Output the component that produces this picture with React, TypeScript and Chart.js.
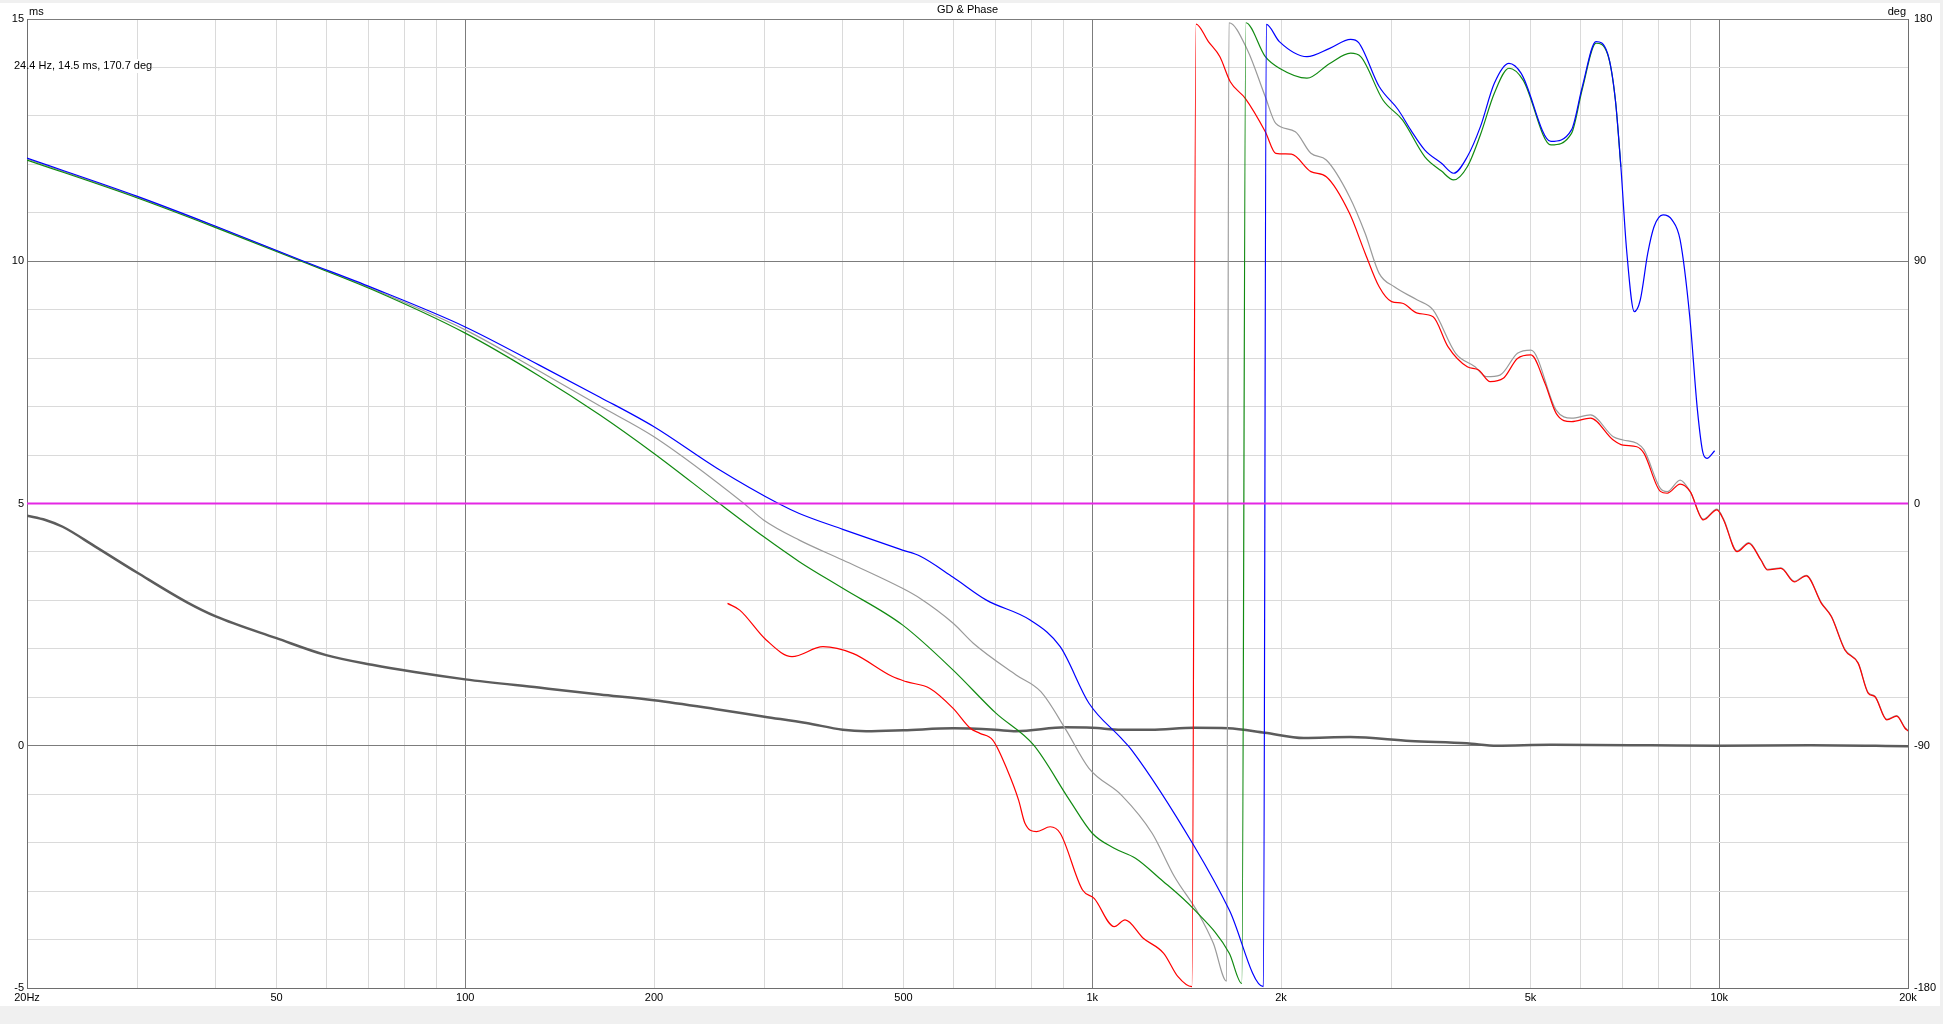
import React, { useEffect, useRef } from 'react';
import { Chart, registerables } from 'chart.js';

Chart.register(...registerables);

// ---------- data ----------
const xTickValues = [20, 30, 40, 50, 60, 70, 80, 90, 100, 200, 300, 400, 500, 600, 700, 800, 900, 1000, 2000, 3000, 4000, 5000, 6000, 7000, 8000, 9000, 10000, 20000];
const xTickLabels: Record<number, string> = { 20: '20Hz', 50: '50', 100: '100', 200: '200', 500: '500', 1000: '1k', 2000: '2k', 5000: '5k', 10000: '10k', 20000: '20k' };
const yMsLabels = [-5, 0, 5, 10, 15];
const yDegLabels = [-180, -90, 0, 90, 180];

// Group delay (ms, left axis)
const gdFreq = [20, 21.4, 22.8, 25.7, 30, 36, 40, 50, 60, 71, 83, 100, 131, 164, 200, 250, 300, 350, 400, 436, 500, 600, 700, 756, 908, 1000, 1112, 1240, 1455, 1646, 1884, 2174, 2580, 3216, 3957, 4420, 5378, 7773, 10000, 14000, 20000];
const gdMs = [4.75, 4.66, 4.52, 4.11, 3.57, 2.96, 2.67, 2.22, 1.87, 1.67, 1.52, 1.37, 1.2, 1.06, 0.94, 0.76, 0.6, 0.47, 0.33, 0.3, 0.32, 0.36, 0.33, 0.3, 0.38, 0.37, 0.33, 0.33, 0.37, 0.36, 0.27, 0.16, 0.18, 0.1, 0.05, 0.0, 0.02, 0.01, 0.0, 0.01, -0.01];

// Phase traces (deg, right axis)
const blueFreq = [20, 30, 40, 55, 71, 100, 131, 164, 200, 252, 317, 341, 400, 498, 531, 600, 678, 796, 889, 988, 1112, 1156, 1456, 1654, 1875, 1895, 1988, 2200, 2392, 2583, 2660, 2868, 3078, 3220, 3392, 3606, 3770, 3964, 4160, 4378, 4620, 4832, 5390, 5812, 6048, 6360, 6634, 6828, 6968, 7116, 7320, 7482, 7690, 7870, 8134, 8412, 8662, 8973, 9230, 9424, 9558, 9832];
const blueDeg = [128.3, 114.1, 103, 90.2, 80.2, 65.6, 51.5, 39.5, 28.5, 13.1, -0.2, -3.7, -9.6, -17.3, -19.5, -27.4, -35.9, -43.3, -53.2, -74.2, -87.2, -91.6, -127.5, -151, -179.5, 178, 171.6, 166, 169.1, 172.4, 171.2, 154.9, 146.2, 138.8, 131.3, 126.4, 122.7, 128.8, 140, 156.1, 163.5, 159.8, 134.5, 138.8, 154.9, 171.6, 167.3, 150, 125.1, 94.2, 71.3, 75.6, 92.9, 102.8, 107.2, 105.3, 97.9, 69.4, 34.7, 18.6, 16.8, 19.6];

const greenFreq = [20, 30, 40, 55, 71, 100, 131, 164, 200, 254, 299, 341, 400, 498, 600, 702, 806, 920, 1000, 1084, 1172, 1280, 1456, 1654, 1732, 1758, 1888, 1988, 2200, 2392, 2583, 2680, 2908, 3124, 3392, 3606, 3770, 3964, 4160, 4378, 4620, 4866, 5390, 5812, 6048, 6360, 6634, 6828, 6968];
const greenDeg = [127.6, 113.5, 102.5, 89.8, 79.5, 63.3, 47.5, 32.9, 18.6, 0.1, -12.3, -21.6, -31.5, -45.1, -61.9, -77.9, -89.7, -110.2, -122.5, -128.1, -131.8, -139.2, -151, -167.1, -178.3, 178.6, 166, 161.7, 158, 163.5, 167.3, 166, 149.9, 142.5, 128.8, 123.5, 120.2, 125.1, 137, 152.4, 161.7, 157.3, 133.2, 137.5, 154, 171, 167, 150, 125.1];

const greyFreq = [20, 30, 40, 55, 71, 100, 131, 164, 200, 278, 299, 341, 400, 498, 531, 600, 646, 756, 828, 908, 988, 1115, 1246, 1352, 1476, 1560, 1638, 1652, 1768, 1888, 1962, 2108, 2232, 2362, 2572, 2724, 2868, 3032, 3300, 3496, 3798, 4078, 4254, 4470, 4766, 5008, 5494, 5812, 6232, 6776, 7024, 7388, 7586, 8054, 8260, 8662, 8988, 9434, 9914, 10160, 10676, 11148, 11650, 11942, 12544, 13178, 13764, 14552, 15098, 15860, 16656, 17284, 17712, 18500, 19188, 19780, 20000];
const greyDeg = [128, 113.8, 102.8, 90, 79.8, 64.5, 49.3, 36.2, 24.8, 0.1, -6.1, -13.6, -21, -31.5, -35.2, -44.5, -51.9, -63.7, -69.9, -84.1, -98.4, -108.5, -122.5, -138.6, -152.2, -163.4, -177.5, 178.6, 168.5, 151.1, 141.2, 138.1, 130.1, 127.6, 114, 100.4, 85.5, 80.5, 75.6, 71.9, 55.8, 50.8, 47.1, 47.7, 55.8, 57, 34.7, 31.7, 32.9, 24.8, 23.6, 22.4, 19.9, 5.6, 4.4, 8.7, 4.4, -5.8, -2.1, -5.8, -17.6, -14.5, -20.8, -24.5, -23.9, -28.9, -26.7, -36.9, -41.9, -54.2, -59.2, -70.3, -71.6, -80.2, -78.8, -83.3, -84.3];

const redFreq = [262, 274, 302, 332, 372, 415, 480, 505, 551, 600, 639, 662, 694, 732, 763, 781, 815, 857, 889, 965, 1007, 1084, 1128, 1206, 1300, 1370, 1442, 1464, 1532, 1598, 1660, 1754, 1888, 1962, 2078, 2232, 2362, 2572, 2724, 2868, 3002, 3124, 3300, 3496, 3692, 3964, 4132, 4312, 4524, 4766, 5008, 5272, 5494, 5812, 6232, 6776, 7024, 7388, 7586, 8054, 8260, 8662, 8988, 9434, 9914, 10160, 10676, 11148, 11650, 11942, 12544, 13178, 13764, 14552, 15098, 15860, 16656, 17284, 17712, 18500, 19188, 19780, 20000];
const redDeg = [-37.1, -39.6, -50.7, -56.9, -53.2, -55.7, -64.3, -66.2, -68.7, -76.1, -83.5, -85.4, -87.9, -99, -110.2, -118.8, -121.9, -120.1, -122.5, -143.6, -146.7, -157.2, -154.7, -161.5, -167.1, -175.8, -179.5, 178.1, 171.6, 166, 156.7, 150.5, 138.1, 130.1, 129.8, 123.3, 121.4, 107.8, 93, 80.5, 75, 74.4, 70.7, 69.4, 58.3, 50.8, 49.6, 45.3, 46.5, 53.9, 55.2, 44.7, 33.5, 30.4, 31.7, 23.6, 21.7, 21.1, 18.6, 4.5, 3.8, 7.2, 4.4, -6.1, -2.4, -6.1, -17.9, -14.8, -21, -24.7, -24.1, -29.1, -26.9, -37.1, -42.1, -54.4, -59.4, -70.5, -71.8, -80.4, -79, -83.5, -84.5];

const refLineFreq = [20, 20000];
const refLineDeg = [0, 0];

const titleText = 'GD & Phase';
const leftUnit = 'ms';
const rightUnit = 'deg';
const cursorText = '24.4 Hz, 14.5 ms, 170.7 deg';

// ---------- helpers ----------
const pts = (f: number[], v: number[]) => f.map((x, i) => ({ x, y: v[i] }));
const FONT = "'Liberation Sans', Arial, sans-serif";
const MAJOR = '#7c7c7c';
const MINOR = '#dadada';

const decorPlugin = {
  id: 'decor',
  beforeDraw(chart: any) {
    const ctx = chart.ctx;
    ctx.save();
    ctx.fillStyle = '#f0f0f0';
    ctx.fillRect(0, 0, chart.width, chart.height);
    ctx.fillStyle = '#ffffff';
    ctx.fillRect(0, 3, 1940, 1003);
    ctx.restore();
  },
  afterDraw(chart: any) {
    const ctx = chart.ctx;
    const a = chart.chartArea;
    ctx.save();
    ctx.fillStyle = '#000';
    ctx.font = `11px ${FONT}`;
    ctx.textBaseline = 'alphabetic';
    ctx.textAlign = 'center';
    ctx.fillText(titleText, (a.left + a.right) / 2, 13);
    ctx.textAlign = 'left';
    ctx.fillText(leftUnit, a.left + 2, 15);
    ctx.textAlign = 'right';
    ctx.fillText(rightUnit, a.right - 2, 15);
    // cursor readout
    ctx.fillStyle = '#ffffff';
    ctx.fillRect(a.left + 1, 59, 124, 14);
    ctx.fillStyle = '#000';
    ctx.textAlign = 'left';
    ctx.fillText(cursorText, 14, 69);
    ctx.restore();
  },
};

export default function App() {
  const ref = useRef<HTMLCanvasElement>(null);
  useEffect(() => {
    document.body.style.margin = '0';
    const canvas = ref.current!;
    const lineDs = (label: string, data: any[], color: string, width: number, axis: string) => ({
      label,
      data,
      borderColor: color,
      backgroundColor: color,
      borderWidth: width,
      pointRadius: 0,
      pointHoverRadius: 0,
      fill: false,
      cubicInterpolationMode: 'monotone' as const,
      yAxisID: axis,
    });
    const chart = new Chart(canvas, {
      type: 'line',
      data: {
        datasets: [
          { ...lineDs('0 deg', pts(refLineFreq, refLineDeg), '#e428e4', 2, 'y2'), cubicInterpolationMode: 'default' as const },
          lineDs('Phase blue', pts(blueFreq, blueDeg), '#0000ff', 1.2, 'y2'),
          lineDs('Phase green', pts(greenFreq, greenDeg), '#118a11', 1.2, 'y2'),
          lineDs('Phase red', pts(redFreq, redDeg), '#ff0000', 1.2, 'y2'),
          lineDs('Phase grey', pts(greyFreq, greyDeg), '#9a9a9a', 1.2, 'y2'),
          lineDs('GD', pts(gdFreq, gdMs), '#5c5c5c', 2.5, 'y'),
        ],
      },
      options: {
        responsive: false,
        devicePixelRatio: 1,
        animation: false,
        events: [],
        layout: { padding: { top: 19, left: 0, right: 0, bottom: 0 } },
        plugins: { legend: { display: false }, tooltip: { enabled: false }, title: { display: false } },
        scales: {
          x: {
            type: 'logarithmic',
            min: 20,
            max: 20000,
            afterBuildTicks: (scale: any) => {
              scale.ticks = xTickValues.map((v) => ({ value: v }));
            },
            afterFit: (scale: any) => {
              scale.height = 36;
            },
            ticks: {
              autoSkip: false,
              maxRotation: 0,
              minRotation: 0,
              padding: 3,
              color: '#000',
              font: { family: FONT, size: 11 },
              callback: (v: any) => xTickLabels[Number(v)] ?? '',
            },
            grid: {
              drawTicks: false,
              lineWidth: 1,
              color: (c: any) => ([100, 1000, 10000].includes(c.tick?.value) ? MAJOR : MINOR),
            },
            border: { display: true, color: '#6e6e6e', width: 1 },
          },
          y: {
            type: 'linear',
            position: 'left',
            min: -5,
            max: 15,
            afterFit: (scale: any) => {
              scale.width = 27;
            },
            ticks: {
              stepSize: 1,
              autoSkip: false,
              padding: 3,
              color: '#000',
              font: { family: FONT, size: 11 },
              callback: (v: any) => (yMsLabels.includes(Number(v)) ? String(v) : ''),
            },
            grid: {
              drawTicks: false,
              lineWidth: 1,
              color: (c: any) => (yMsLabels.includes(c.tick?.value) ? MAJOR : MINOR),
            },
            border: { display: true, color: '#6e6e6e', width: 1 },
          },
          y2: {
            type: 'linear',
            position: 'right',
            min: -180,
            max: 180,
            afterFit: (scale: any) => {
              scale.width = 35;
            },
            afterBuildTicks: (scale: any) => {
              scale.ticks = yDegLabels.map((v) => ({ value: v }));
            },
            ticks: {
              autoSkip: false,
              padding: 6,
              color: '#000',
              font: { family: FONT, size: 11 },
              callback: (v: any) => String(v),
            },
            grid: { display: false, drawTicks: false },
            border: { display: true, color: '#6e6e6e', width: 1 },
          },
        },
      },
      plugins: [decorPlugin],
    } as any);
    return () => chart.destroy();
  }, []);
  return (
    <div style={{ position: 'fixed', left: 0, top: 0, width: 1943, height: 1024, background: '#f0f0f0' }}>
      <canvas ref={ref} width={1943} height={1024} style={{ display: 'block', width: 1943, height: 1024 }} />
    </div>
  );
}
